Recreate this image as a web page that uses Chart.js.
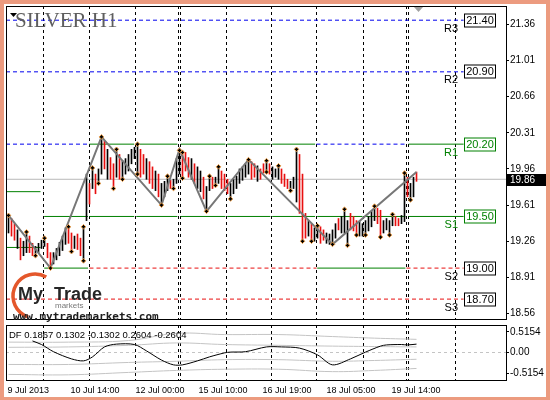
<!DOCTYPE html>
<html>
<head>
<meta charset="utf-8">
<script src="https://cdn.jsdelivr.net/npm/chart.js@4.4.1/dist/chart.umd.min.js"></script>
<style>
  html, body { margin: 0; padding: 0; background: #fff; }
  canvas { position: absolute; left: 0; }
  #mainChart { top: 0; }
  #dfChart { top: 324px; }
  #frame { position: absolute; left: 0; top: 0; width: 550px; height: 400px; box-sizing: border-box;
           border-style: solid; border-color: #ec9b7f; border-width: 4px 4px 3px 4px; pointer-events: none; }
</style>
</head>
<body>
<canvas id="mainChart" width="550" height="324"></canvas>
<canvas id="dfChart" width="550" height="76"></canvas>
<div id="frame"></div>
<script>
// ---- data ----
const priceTicks = [18.56, 18.91, 19.26, 19.61, 19.96, 20.31, 20.66, 21.01, 21.36];
const timeLabels = ["9 Jul 2013", "10 Jul 14:00", "12 Jul 00:00", "15 Jul 10:00", "16 Jul 19:00", "18 Jul 05:00", "19 Jul 14:00"];
const timeTickAt = [-0.33, 20.67, 42.33, 63.33, 84.67, 106, 127.67];
const daySeparators = [11.67, 27, 42.33, 56.67, 57.17, 72.67, 87.67, 102.67, 118.33, 132.67, 133.17, 149];

const barHigh = [19.51, 19.48, 19.43, 19.37, 19.29, 19.26, 19.36, 19.31, 19.24, 19.21,
  19.24, 19.27, 19.30, 19.24, 19.15, 19.15, 19.19, 19.25, 19.31, 19.39,
  19.40, 19.34, 19.31, 19.33, 19.29, 19.40, 19.91, 19.82, 19.97, 19.91,
  19.96, 20.27, 20.23, 20.15, 20.07, 20.01, 20.15, 20.10, 20.04, 20.06,
  20.10, 20.15, 20.17, 20.20, 20.15, 20.10, 20.06, 20.03, 19.98, 19.94,
  19.91, 19.82, 19.84, 19.90, 19.85, 19.86, 20.06, 20.15, 20.12, 20.12,
  20.07, 20.06, 20.01, 19.98, 19.94, 19.88, 19.79, 19.90, 19.88, 19.88,
  19.98, 19.94, 19.91, 19.86, 19.82, 19.86, 19.89, 19.96, 19.98, 20.01,
  20.05, 20.03, 20.01, 19.99, 19.96, 20.01, 20.05, 20.01, 19.98, 19.96,
  19.99, 19.96, 19.91, 19.86, 19.84, 19.88, 20.15, 20.10, 19.91, 19.53,
  19.46, 19.43, 19.39, 19.41, 19.40, 19.37, 19.34, 19.33, 19.37, 19.43,
  19.48, 19.50, 19.57, 19.46, 19.53, 19.50, 19.46, 19.45, 19.43, 19.46,
  19.50, 19.55, 19.60, 19.58, 19.56, 19.46, 19.48, 19.46, 19.52, 19.50,
  19.48, 19.51, 19.92, 19.88, 19.82, 19.88, 19.93];
const barLow = [19.34, 19.31, 19.27, 19.19, 19.08, 19.12, 19.15, 19.15, 19.12, 19.12,
  19.15, 19.19, 19.21, 19.10, 19.00, 19.04, 19.08, 19.12, 19.17, 19.23,
  19.24, 19.16, 19.19, 19.18, 19.12, 19.07, 19.46, 19.62, 19.77, 19.72,
  19.82, 19.91, 19.96, 19.86, 19.86, 19.77, 19.88, 19.86, 19.86, 19.91,
  19.94, 20.01, 20.06, 19.90, 19.88, 19.91, 19.86, 19.82, 19.77, 19.75,
  19.69, 19.61, 19.69, 19.75, 19.77, 19.77, 19.82, 19.91, 19.86, 19.94,
  19.88, 19.86, 19.82, 19.77, 19.74, 19.67, 19.55, 19.75, 19.77, 19.80,
  19.82, 19.77, 19.75, 19.72, 19.67, 19.72, 19.77, 19.82, 19.85, 19.88,
  19.91, 19.86, 19.88, 19.84, 19.86, 19.92, 19.93, 19.91, 19.86, 19.88,
  19.86, 19.82, 19.79, 19.77, 19.75, 19.77, 19.64, 19.53, 19.26, 19.29,
  19.31, 19.26, 19.26, 19.29, 19.24, 19.27, 19.24, 19.23, 19.23, 19.29,
  19.37, 19.34, 19.34, 19.22, 19.37, 19.36, 19.31, 19.31, 19.31, 19.32,
  19.36, 19.40, 19.46, 19.43, 19.30, 19.34, 19.37, 19.32, 19.41, 19.41,
  19.41, 19.43, 19.45, 19.69, 19.66, 19.69, 19.84];
const barUp = [1, 0, 0, 1, 0, 1, 1, 0, 0, 1,
  1, 1, 1, 0, 0, 1, 1, 1, 1, 1,
  0, 0, 1, 0, 0, 1, 1, 0, 1, 0,
  1, 1, 0, 1, 0, 0, 1, 0, 1, 1,
  1, 1, 1, 1, 0, 0, 1, 0, 0, 1,
  0, 1, 1, 1, 0, 1, 1, 1, 0, 0,
  0, 1, 0, 1, 1, 0, 1, 1, 0, 1,
  1, 0, 0, 0, 1, 1, 1, 1, 1, 1,
  1, 0, 0, 1, 0, 0, 1, 0, 1, 1,
  1, 0, 0, 0, 1, 1, 1, 0, 0, 0,
  1, 0, 1, 1, 0, 0, 1, 1, 1, 1,
  0, 1, 1, 1, 0, 0, 0, 1, 1, 1,
  1, 1, 1, 0, 0, 1, 1, 1, 1, 0,
  0, 1, 1, 0, 1, 1, 0];

const zigzagAt = [0, 14, 31, 51, 57, 66, 80, 108, 136];
const zigzagPrice = [19.51, 19.00, 20.27, 19.61, 20.15, 19.55, 20.05, 19.23, 19.93];

const fractalAt = [0, 6, 9, 12, 14, 20, 21, 25, 25, 28, 30, 31, 35, 36, 38, 43, 43, 51, 53, 55,
  57, 58, 58, 66, 67, 69, 70, 74, 80, 86, 86, 90, 94, 96, 98, 101, 103, 108, 112, 113,
  116, 119, 122, 124, 127, 128, 132, 134];
const fractalPrice = [19.51, 19.35, 19.12, 19.29, 19.00, 19.40, 19.16, 19.40, 19.07, 19.97, 19.82, 20.27, 19.77, 20.15, 19.86, 20.20, 19.91, 19.61, 19.89, 19.77,
  20.14, 20.12, 19.87, 19.55, 19.89, 19.80, 19.98, 19.67, 20.05, 19.93, 20.04, 19.99, 19.75, 20.15, 19.26, 19.26, 19.41, 19.23, 19.57, 19.22,
  19.32, 19.32, 19.60, 19.30, 19.32, 19.52, 19.92, 19.66];

const currentPrice = 19.86;

const levelNames = ["R3", "R2", "R1", "S1", "S2", "S3"];
const levelValues = [21.40, 20.90, 20.20, 19.50, 19.00, 18.70];

// pivot line pieces: price, from bar, to bar, kind (g = green solid, b = blue dashed, r = red dashed)
const segPrice = [21.40, 20.90, 20.20, 20.20, 20.20, 20.20, 20.20, 20.20, 20.20, 20.20, 19.74, 19.20,
  19.50, 19.50, 19.50, 19.50, 19.50, 19.50, 19.50, 19.50, 19.50, 19.00, 19.00, 19.00, 19.00, 18.70];
const segFrom = [-0.83, -0.83, -0.83, 27, 42.6, 57.4, 72.9, 87.9, 102.67, 133.4, -0.83, -0.83,
  11.9, 27, 42.6, 57.4, 72.9, 87.9, 102.9, 118.6, 133.4, 11.9, 27, 102.9, 132.67, -0.83];
const segTo = [151.7, 151.7, 27, 41.9, 56.3, 72.3, 87.3, 102.2, 132.67, 151.7, 10.67, 10.67,
  26.5, 41.9, 56.3, 72.3, 87.3, 102.2, 118, 132.3, 151.7, 26.5, 102.67, 132.3, 151.7, 151.7];
const segKind = ["b", "b", "b", "g", "g", "g", "g", "g", "b", "g", "g", "g",
  "g", "g", "g", "g", "g", "g", "g", "g", "g", "g", "r", "g", "r", "r"];

const dfAt = [8, 11, 15, 21, 25, 28, 32, 36, 42, 46, 51, 55, 58, 63, 67, 72, 74, 79, 86, 91, 97, 103, 108, 114, 119, 124, 126, 131, 133, 136];
const dfValue = [0.29, 0.20, 0.02, -0.16, -0.21, -0.11, 0.14, 0.21, 0.20, 0.04, -0.19, -0.31, -0.31, -0.21, -0.11, -0.01, 0.01, 0.02, 0.14, 0.14, 0.11, -0.06, -0.31, -0.16, 0.01, 0.16, 0.19, 0.20, 0.19, 0.21];
const bandAt = [0, 20, 40, 56, 72, 90, 108, 122, 136];
const bandUpOuter = [0.26, 0.26, 0.30, 0.48, 0.45, 0.45, 0.40, 0.36, 0.33];
const bandUpInner = [0.13, 0.14, 0.18, 0.24, 0.20, 0.18, 0.16, 0.15, 0.14];
const bandLowInner = [-0.30, -0.30, -0.25, -0.22, -0.18, -0.18, -0.22, -0.20, -0.17];
const bandLowOuter = [-0.55, -0.56, -0.50, -0.45, -0.42, -0.42, -0.48, -0.45, -0.40];
const dfTicks = [-0.5154, 0, 0.5154];
const dfLegend = [0.1867, 0.1302, -0.1302, 0.2604, -0.2604];

// ---- shared settings ----
const FONT = "'Liberation Sans', Arial, sans-serif";
Chart.defaults.font.family = FONT;
Chart.defaults.color = "#000";
const X_MIN = -0.8333, X_MAX = 165.8333;
const GREEN = "#008000", BLUE = "#0000ee", RED = "#e81010";
const kindColor = { g: GREEN, b: BLUE, r: RED };

const rightAxisFit = s => { s.width = 44; s.paddingTop = 0; s.paddingBottom = 0; };
const flatAxisFit = s => { s.height = 0; s.paddingLeft = 0; s.paddingRight = 0; };

const separatorAxis = {
    type: "linear",
    min: X_MIN,
    max: X_MAX,
    offset: false,
    afterBuildTicks: s => { s.ticks = daySeparators.map(v => ({ value: v })); },
    afterFit: flatAxisFit,
    ticks: { display: false },
    grid: { color: "#000", drawTicks: false, offset: false },
    border: { display: false, dash: [3, 3] }
};

// ---- main price chart ----
const levelDatasets = segPrice.map((p, i) => ({
    type: "line",
    data: [{ x: segFrom[i], y: p }, { x: segTo[i], y: p }],
    borderColor: kindColor[segKind[i]],
    borderWidth: 1,
    borderDash: segKind[i] === "g" ? [] : [4, 3],
    pointRadius: 0,
    order: 10
}));

const mainDecor = {
    id: "mainDecor",
    afterDraw(chart) {
        const { ctx, chartArea: a, scales: { x, y } } = chart;
        ctx.save();
        ctx.strokeStyle = "#000";
        ctx.lineWidth = 1;
        ctx.strokeRect(a.left + 0.5, a.top + 0.5, a.width, a.height);

        // title
        ctx.fillStyle = "#5e5e5e";
        ctx.font = "21px 'Liberation Serif', serif";
        ctx.textBaseline = "alphabetic";
        ctx.fillText("SILVER H1", 15, 27);
        ctx.fillStyle = "#000";
        ctx.beginPath();
        ctx.moveTo(10, 13); ctx.lineTo(17, 13); ctx.lineTo(13.5, 17); ctx.closePath(); ctx.fill();
        ctx.fillStyle = "#a0a0a0";
        ctx.beginPath();
        ctx.moveTo(414, 7); ctx.lineTo(423, 7); ctx.lineTo(418.5, 12); ctx.closePath(); ctx.fill();

        // level boxes and names
        const bx = Math.round(x.getPixelForValue(151.7)) + 0.5;
        levelNames.forEach((name, i) => {
            const py = Math.floor(y.getPixelForValue(levelValues[i])) + 0.5;
            const c = (name === "R1" || name === "S1") ? GREEN : "#000";
            ctx.fillStyle = "#fff";
            ctx.fillRect(bx, py - 6.5, 31, 13);
            ctx.strokeStyle = c;
            ctx.strokeRect(bx, py - 6.5, 31, 13);
            ctx.fillStyle = c;
            ctx.font = "11px " + FONT;
            ctx.textAlign = "center";
            ctx.textBaseline = "middle";
            ctx.fillText(levelValues[i].toFixed(2), bx + 15.5, py + 0.5);
            ctx.textAlign = "right";
            ctx.fillText(name, 458, py + 8);
        });

        // current price tag
        const cp = y.getPixelForValue(currentPrice);
        ctx.fillStyle = "#000";
        ctx.fillRect(507, Math.round(cp) - 5, 39, 12);
        ctx.fillStyle = "#fff";
        ctx.font = "10px " + FONT;
        ctx.textAlign = "left";
        ctx.textBaseline = "middle";
        ctx.fillText(currentPrice.toFixed(2), 510, Math.round(cp) + 1);

        // watermark logo
        ctx.strokeStyle = "#e4572b";
        ctx.lineWidth = 3.5;
        ctx.beginPath();
        ctx.arc(35, 296, 22, -0.33 * Math.PI, 0.6 * Math.PI, true);
        ctx.stroke();
        ctx.fillStyle = "#262626";
        ctx.font = "bold 18px " + FONT;
        ctx.textBaseline = "alphabetic";
        ctx.fillText("My", 18, 300);
        ctx.fillText("Trade", 54, 300);
        ctx.fillStyle = "#777";
        ctx.font = "8px " + FONT;
        ctx.fillText("markets", 55, 308);
        ctx.fillStyle = "#1e1e1e";
        ctx.font = "bold 11px 'DejaVu Sans Mono', monospace";
        ctx.fillText("www.mytrademarkets.com", 13, 320);
        ctx.restore();
    }
};

new Chart(document.getElementById("mainChart"), {
    type: "bar",
    data: {
        datasets: [
            {
                type: "line",
                data: fractalAt.map((v, i) => ({ x: v, y: fractalPrice[i] })),
                showLine: false,
                pointStyle: "rectRot",
                pointRadius: 2.3,
                pointBackgroundColor: "#000",
                pointBorderColor: "#f0a048",
                pointBorderWidth: 1,
                order: 1
            },
            {
                type: "line",
                data: zigzagAt.map((v, i) => ({ x: v, y: zigzagPrice[i] })),
                borderColor: "#777",
                borderWidth: 2,
                pointRadius: 0,
                order: 2
            },
            {
                type: "bar",
                data: barHigh.map((h, i) => ({ x: i, y: [barLow[i], h] })),
                backgroundColor: barUp.map(u => u ? "#000" : RED),
                barThickness: 1,
                order: 3
            },
            {
                type: "line",
                data: [{ x: X_MIN, y: currentPrice }, { x: X_MAX, y: currentPrice }],
                borderColor: "#b8b8b8",
                borderWidth: 1,
                pointRadius: 0,
                order: 20
            },
            ...levelDatasets
        ]
    },
    options: {
        responsive: false,
        animation: false,
        events: [],
        layout: { padding: { left: 6, top: 6, right: 0, bottom: 2 } },
        plugins: { legend: { display: false }, tooltip: { enabled: false } },
        scales: {
            x: separatorAxis,
            y: {
                position: "right",
                min: 18.5073,
                max: 21.5374,
                afterBuildTicks: s => { s.ticks = priceTicks.map(v => ({ value: v })); },
                afterFit: rightAxisFit,
                ticks: { padding: 1, font: { size: 10 }, callback: v => v.toFixed(2) },
                grid: { drawOnChartArea: false, drawTicks: true, tickLength: 3, color: "#000" },
                border: { display: true, color: "#000" }
            }
        }
    },
    plugins: [mainDecor]
});

// ---- DF indicator ----
const dfDecor = {
    id: "dfDecor",
    afterDraw(chart) {
        const { ctx, chartArea: a } = chart;
        ctx.save();
        ctx.strokeStyle = "#000";
        ctx.lineWidth = 1;
        ctx.strokeRect(a.left + 0.5, a.top + 0.5, a.width, a.height);
        ctx.fillStyle = "#000";
        ctx.font = "9.5px " + FONT;
        ctx.textBaseline = "middle";
        ctx.fillText("DF " + dfLegend.map(v => v.toFixed(4)).join(" "), 9, 11);
        ctx.restore();
    }
};

const band = (vals) => ({
    data: bandAt.map((v, i) => ({ x: v, y: vals[i] })),
    borderColor: "#c4c4c4",
    borderWidth: 1,
    pointRadius: 0,
    tension: 0.4,
    order: 5
});

new Chart(document.getElementById("dfChart"), {
    type: "line",
    data: {
        datasets: [
            {
                data: dfAt.map((v, i) => ({ x: v, y: dfValue[i] })),
                borderColor: "#000",
                borderWidth: 1,
                pointRadius: 0,
                tension: 0.3,
                order: 1
            },
            band(bandUpOuter),
            band(bandUpInner),
            band(bandLowInner),
            band(bandLowOuter),
            {
                data: [{ x: X_MIN, y: 0 }, { x: X_MAX, y: 0 }],
                borderColor: "#c4c4c4",
                borderWidth: 1,
                borderDash: [3, 3],
                pointRadius: 0,
                order: 6
            }
        ]
    },
    options: {
        responsive: false,
        animation: false,
        events: [],
        layout: { padding: { left: 6, top: 1, right: 0, bottom: 0 } },
        plugins: { legend: { display: false }, tooltip: { enabled: false } },
        scales: {
            x: separatorAxis,
            xl: {
                type: "linear",
                position: "bottom",
                min: X_MIN,
                max: X_MAX,
                afterBuildTicks: s => { s.ticks = timeTickAt.map(v => ({ value: v })); },
                afterFit: s => { s.height = 20; s.paddingLeft = 0; s.paddingRight = 0; },
                ticks: {
                    autoSkip: false,
                    maxRotation: 0,
                    align: "start",
                    padding: 5,
                    font: { size: 9 },
                    callback: (v, i) => timeLabels[i]
                },
                grid: { display: false, drawTicks: false },
                border: { display: false }
            },
            y: {
                position: "right",
                min: -0.69,
                max: 0.69,
                afterBuildTicks: s => { s.ticks = dfTicks.map(v => ({ value: v })); },
                afterFit: rightAxisFit,
                ticks: { padding: 1, font: { size: 10 }, callback: v => v === 0 ? "0.00" : v.toFixed(4) },
                grid: { drawOnChartArea: false, drawTicks: true, tickLength: 3, color: "#000" },
                border: { display: true, color: "#000" }
            }
        }
    },
    plugins: [dfDecor]
});
</script>
</body>
</html>
